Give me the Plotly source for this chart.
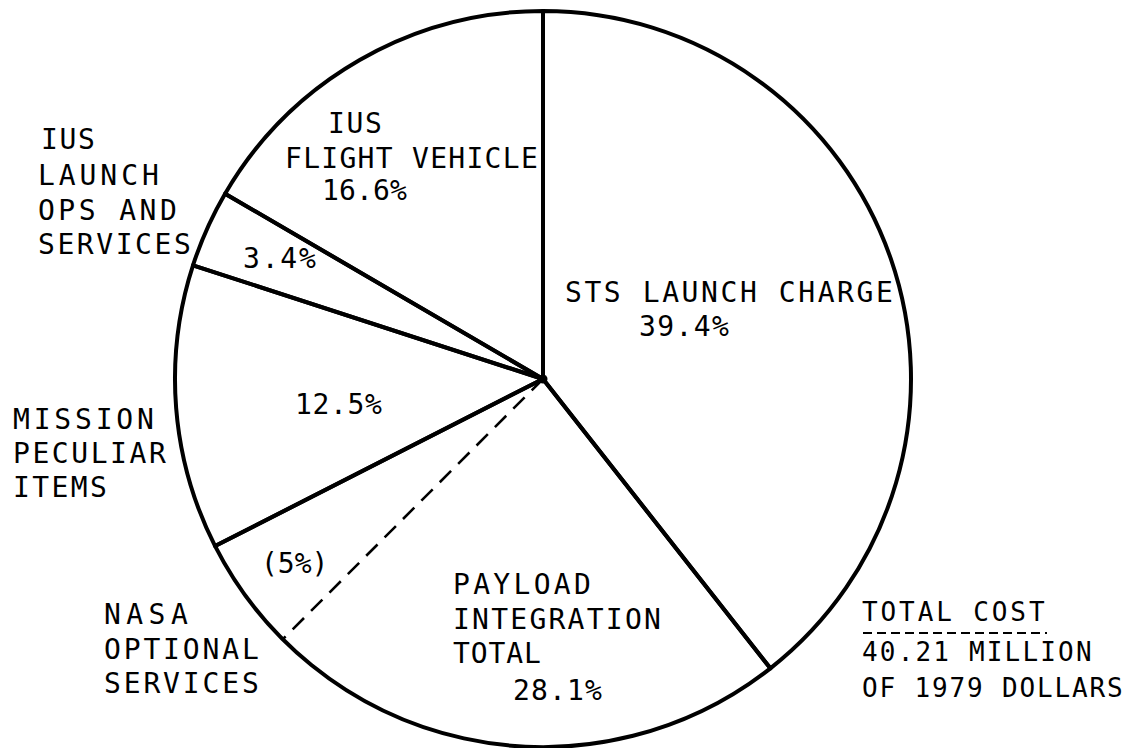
import plotly.graph_objects as go

# ---- data ----
categories = ["STS LAUNCH CHARGE", "PAYLOAD INTEGRATION TOTAL", "MISSION PECULIAR ITEMS",
              "IUS LAUNCH OPS AND SERVICES", "IUS FLIGHT VEHICLE"]
shares = [39.4, 28.1, 12.5, 3.4, 16.6]          # percent of total cost
nasa_optional_share = 5.0                        # part of payload integration total
total_cost_label = ["TOTAL COST", "40.21 MILLION", "OF 1979 DOLLARS"]

# label text lines (content only)
label_lines = [
    "IUS", "FLIGHT VEHICLE", f"{shares[4]}%",
    "IUS", "LAUNCH", "OPS AND", "SERVICES", f"{shares[3]}%",
    "STS LAUNCH CHARGE", f"{shares[0]}%",
    f"{shares[2]}%", "MISSION", "PECULIAR", "ITEMS",
    f"({nasa_optional_share:g}%)", "NASA", "OPTIONAL", "SERVICES",
    "PAYLOAD", "INTEGRATION", "TOTAL", f"{shares[1]}%",
] + total_cost_label

# ---- layout: per line (left x px, cap-centre y px, ink width px) in window pixels ----
VW, VH = 1132, 748          # browser window
OFF = 8                     # default page margin around the figure
W, H = VW - OFF, VH - OFF   # figure size
label_box = [
    (329, 124, 51), (286, 158, 250), (323, 190, 82),
    (42, 140, 51), (39, 175, 118), (39, 210, 136), (39, 245, 150), (244, 259, 70),
    (566, 292, 325), (640, 326, 87),
    (296, 404, 84), (14, 419, 138), (14, 454, 150), (14, 487, 91),
    (262, 563, 55), (105, 614, 81), (105, 649, 152), (105, 683, 152),
    (454, 584, 135), (454, 619, 205), (454, 653, 85), (514, 690, 86),
    (863, 612, 180), (863, 652, 227), (863, 688, 258),
]
n_small = len(total_cost_label)
FONT = "DejaVu Sans Mono"
ADV = 0.6021  # advance width of the mono font, in em


def px_x(x):
    return (x - OFF) / W


def px_y(y):
    return 1 - (y - OFF) / H


cx, cy, R = 543, 379, 368
dom_x = [px_x(cx - R), px_x(cx + R)]
dom_y = [px_y(cy + R), px_y(cy - R)]

fig = go.Figure()

# dashed split inside payload integration (NASA optional services)
split_theta = 360 * (shares[0] + shares[1] - nasa_optional_share) / sum(shares)
fig.add_trace(go.Scatterpolar(
    r=[0, 1], theta=[split_theta, split_theta], mode="lines",
    line=dict(color="black", width=2.6, dash="16px,10px"),
    hoverinfo="skip", showlegend=False,
))
# hub blob at the centre
fig.add_trace(go.Scatterpolar(
    r=[0], theta=[0], mode="markers", marker=dict(color="black", size=9),
    hoverinfo="skip", showlegend=False,
))

fig.add_trace(go.Pie(
    labels=categories, values=shares, sort=False, direction="clockwise", rotation=0,
    marker=dict(colors=["rgba(0,0,0,0)"] * len(shares), line=dict(color="black", width=4)),
    textinfo="none", hoverinfo="skip", showlegend=False,
    domain=dict(x=dom_x, y=dom_y),
))

annotations = []
for i, (t, (px, py, wd)) in enumerate(zip(label_lines, label_box)):
    size = 26 if i >= len(label_lines) - n_small else 28
    n = len(t)
    ls = max(0.0, (wd + 0.1 * size - n * ADV * size) / max(n - 1, 1))
    annotations.append(dict(
        text=f'<span style="letter-spacing:{ls:.2f}px">{t}</span>',
        x=px_x(px - 3), y=px_y(py), xref="paper", yref="paper",
        xanchor="left", yanchor="middle", showarrow=False,
        font=dict(family=FONT, size=size, color="black"),
    ))

fig.add_shape(type="line", xref="paper", yref="paper",
              x0=px_x(863), x1=px_x(1047), y0=px_y(633), y1=px_y(633),
              line=dict(color="black", width=1.8, dash="9px,5px"))

fig.update_layout(
    width=W, height=H, margin=dict(l=0, r=0, t=0, b=0),
    paper_bgcolor="white", plot_bgcolor="white",
    polar=dict(
        domain=dict(x=dom_x, y=dom_y), bgcolor="rgba(0,0,0,0)",
        radialaxis=dict(visible=False, range=[0, 1]),
        angularaxis=dict(visible=False, rotation=90, direction="clockwise"),
    ),
    annotations=annotations,
)

fig.write_html("out.html")
